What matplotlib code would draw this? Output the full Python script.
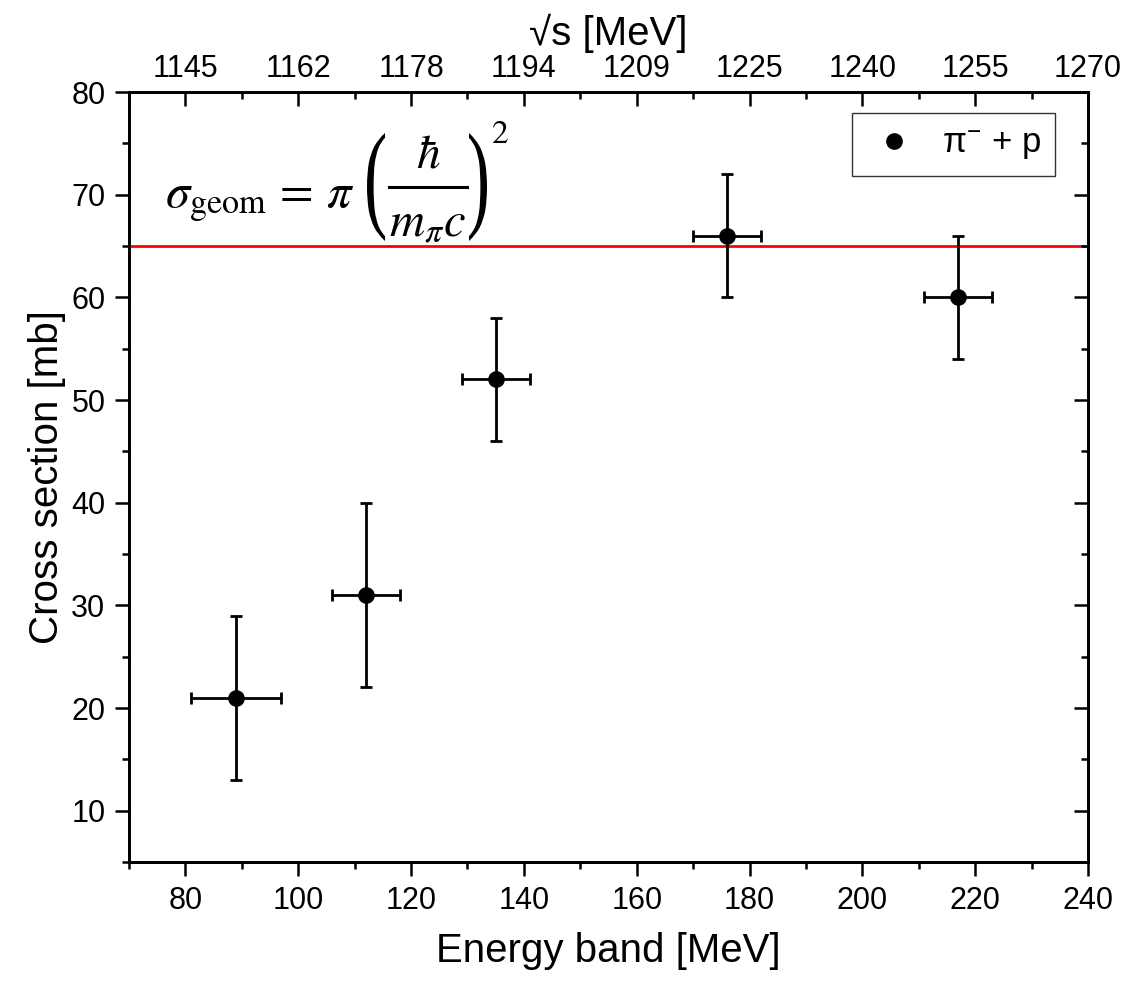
import numpy as np
import matplotlib.pyplot as plt
from matplotlib.textpath import TextPath
from matplotlib.patches import PathPatch
from matplotlib.font_manager import FontProperties
from matplotlib.transforms import Affine2D
from matplotlib.lines import Line2D

plt.rcParams['font.family'] = ['Liberation Sans', 'DejaVu Sans']
plt.rcParams['mathtext.fontset'] = 'stix'

# data
energy = [89, 112, 135, 176, 217]
energy_err = [8, 6, 6, 6, 6]
sigma = [21, 31, 52, 66, 60]
sigma_err = [8, 9, 6, 6, 6]
sigma_geom = 65

bottom_ticks = [80, 100, 120, 140, 160, 180, 200, 220, 240]
top_labels = ['1145', '1162', '1178', '1194', '1209', '1225', '1240', '1255', '1270']

W, H = 1147, 983
LW = 1.8
fig = plt.figure(figsize=(W / 100, H / 100), dpi=100)
ax = fig.add_axes([129 / W, 1 - 862 / H, (1088 - 129) / W, (862 - 92) / H])

ax.axhline(sigma_geom, color='#ff0000', lw=2.0, zorder=1)
ax.errorbar(energy, sigma, xerr=energy_err, yerr=sigma_err, fmt='o', color='black',
            ms=11, lw=2.0, capsize=4, capthick=2.0, zorder=3)
ax.plot([], [], 'o', color='black', ms=11, label=r'$\mathregular{\pi^{-}}$ + p')

ax.set_xlim(70, 240)
ax.set_ylim(5, 80)
ax.set_xticks(bottom_ticks)
ax.set_xticks(np.arange(70, 241, 10), minor=True)
ax.set_yticks(np.arange(10, 81, 10))
ax.set_yticks(np.arange(5, 81, 5), minor=True)

for s in ax.spines.values():
    s.set_linewidth(LW)
ax.tick_params(which='major', length=10, width=LW, labelsize=22, pad=7)
ax.tick_params(which='minor', length=5, width=LW)
ax.tick_params(axis='x', which='both', direction='out')
ax.tick_params(axis='y', which='both', direction='out', left=True, right=False)

ax.set_xlabel('Energy band [MeV]', fontsize=29, labelpad=12)
ax.set_ylabel('Cross section [mb]', fontsize=29, labelpad=4)

# right axis: inward ticks, no labels
right = ax.twinx()
right.set_ylim(ax.get_ylim())
right.set_yticks(np.arange(10, 81, 10))
right.set_yticks(np.arange(5, 81, 5), minor=True)
right.tick_params(which='major', direction='in', length=10, width=LW, labelright=False)
right.tick_params(which='minor', direction='in', length=5, width=LW)

top = ax.twiny()
top.set_xlim(ax.get_xlim())
top.set_xticks(bottom_ticks)
top.set_xticklabels(top_labels)
top.set_xticks(np.arange(70, 241, 10), minor=True)
top.tick_params(which='major', direction='in', length=10, width=LW, labelsize=22, pad=6)
top.tick_params(which='minor', direction='in', length=5, width=LW)
top.set_xlabel('√s [MeV]', fontsize=29, labelpad=6)
for a in (right, top):
    for s in a.spines.values():
        s.set_linewidth(LW)


# formula, placed in pixel units of the figure
def px(x, y):
    return x / W, 1 - y / H


fig.text(*px(165, 207), r'$\sigma_{\mathrm{geom}}\,=\,\pi$', fontsize=35, va='baseline', ha='left')
fig.text(*px(428, 167), r'$\hbar$', fontsize=34, va='baseline', ha='center')
fig.text(*px(428, 236), r'$m_{\pi}c$', fontsize=35, va='baseline', ha='center')
fig.text(*px(492, 143), '2', fontsize=24, family='STIXGeneral', va='baseline', ha='left')
fig.add_artist(Line2D([389 / W, 467 / W], [1 - 187 / H, 1 - 187 / H],
                      transform=fig.transFigure, color='black', lw=2.2))

for ch, x0 in (('(', 367), (')', 469)):
    tp = TextPath((0, 0), ch, size=1, prop=FontProperties(family='Liberation Serif'))
    ext = tp.get_extents()
    tr = (Affine2D().translate(-ext.x0, -ext.y0)
          .scale(18 / ext.width, 108 / ext.height)
          .translate(x0, H - 241))
    fig.add_artist(PathPatch(tp, transform=tr, color='black', lw=0))

leg = ax.legend(loc='upper right', fontsize=25, frameon=True, fancybox=False,
                edgecolor='black', handlelength=1.6, handletextpad=0.6, borderpad=0.4,
                borderaxespad=0, bbox_to_anchor=((1055 - 129) / 959, (862 - 113) / 770))
leg.get_frame().set_linewidth(1.0)

fig.savefig('out.png', dpi=100)
